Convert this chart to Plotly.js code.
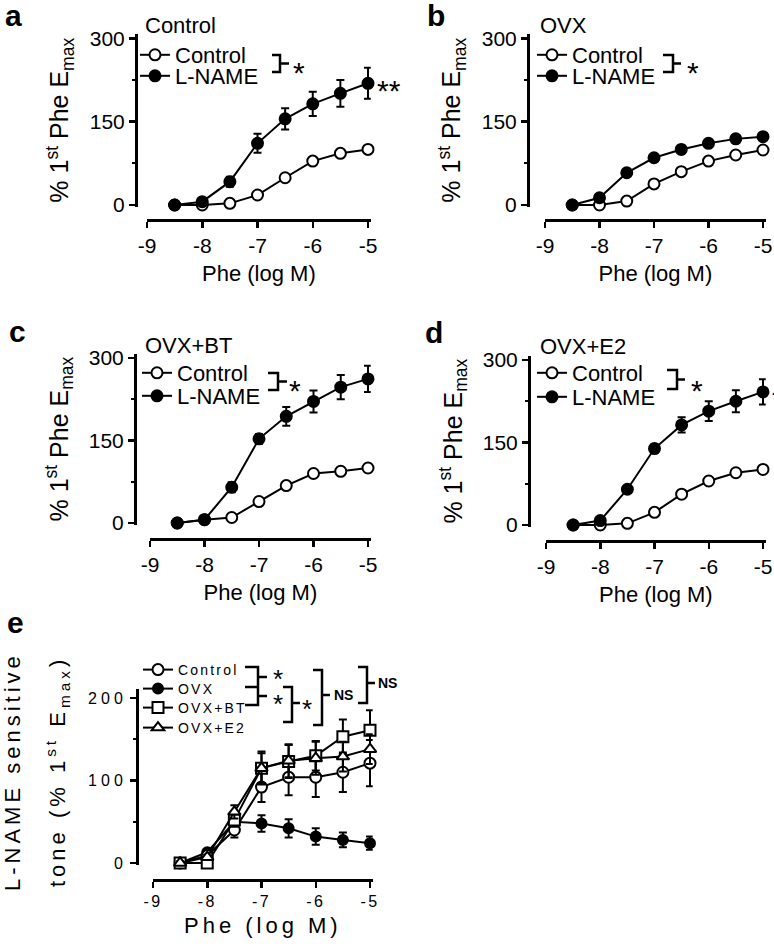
<!DOCTYPE html>
<html><head><meta charset="utf-8">
<script src="https://cdn.plot.ly/plotly-3.0.1.min.js"></script>
<style>html,body{margin:0;padding:0;background:#fff}#chart{width:774px;height:947px}</style>
</head><body><div id="chart"></div>
<script>
// ---------------- data ----------------
const logPhe = [-8.5, -8, -7.5, -7, -6.5, -6, -5.5, -5];
const xTickVals = [-9, -8, -7, -6, -5];
const xTickText = ['-9', '-8', '-7', '-6', '-5'];
const yTickValsAD = [0, 150, 300];
const yTickTextAD = ['0', '150', '300'];
const yTickValsE = [0, 100, 200];
const yTickTextE = ['0', '100', '200'];

const panelLetters = ['a', 'b', 'c', 'd', 'e'];
const panelTitles = ['Control', 'OVX', 'OVX+BT', 'OVX+E2'];
const pairNames = ['Control', 'L-NAME'];
const eNames = ['Control', 'OVX', 'OVX+BT', 'OVX+E2'];

// a: Control group
const ctrlA = [0, 0, 3, 18, 49, 79, 93, 100];
const ctrlAErr = [0, 1, 1, 3, 3, 3, 3, 2];
const lnameA = [0, 6, 42, 111, 155, 182, 201, 219];
const lnameAErr = [0, 2, 9, 17, 19, 22, 24, 28];
// b: OVX
const ctrlB = [0, 0, 7, 38, 60, 79, 90, 99];
const ctrlBErr = [0, 1, 2, 3, 3, 3, 3, 2];
const lnameB = [0, 13, 58, 85, 100, 111, 119, 123];
const lnameBErr = [0, 3, 4, 5, 7, 5, 6, 7];
// c: OVX+BT
const ctrlC = [0, 6, 10, 39, 68, 90, 94, 100];
const ctrlCErr = [0, 1, 2, 3, 3, 3, 3, 2];
const lnameC = [0, 6, 65, 153, 194, 221, 247, 262];
const lnameCErr = [0, 3, 9, 9, 17, 20, 22, 24];
// d: OVX+E2
const ctrlD = [0, 0, 3, 23, 56, 80, 95, 101];
const ctrlDErr = [0, 1, 1, 3, 3, 3, 3, 2];
const lnameD = [0, 8, 65, 139, 182, 207, 225, 242];
const lnameDErr = [0, 2, 4, 8, 14, 18, 20, 23];
// e: L-NAME sensitive tone
const eCtrl = [0, 9, 40, 92, 104, 104, 110, 121];
const eCtrlErr = [2, 3, 9, 18, 22, 24, 24, 28];
const eOvx = [0, 13, 50, 48, 42, 32, 28, 24];
const eOvxErr = [2, 3, 6, 10, 11, 10, 9, 8];
const eBt = [0, 0, 52, 115, 123, 130, 153, 161];
const eBtErr = [2, 3, 8, 20, 20, 18, 21, 24];
const eE2 = [0, 7, 62, 115, 124, 127, 129, 138];
const eE2Err = [2, 3, 8, 18, 20, 20, 18, 18];

// ---------------- helpers ----------------
const W = 774, H = 947;
const F = 'Liberation Sans, Arial, Helvetica, sans-serif';
const fx = p => p / W, fy = p => 1 - p / H;

const axCommon = {
  showline: true, linewidth: 3, linecolor: '#000', ticks: 'outside', tickwidth: 2.5,
  tickcolor: '#000', ticklen: 6, showgrid: false, zeroline: false, fixedrange: true,
  anchor: 'free', automargin: false
};
function yAx(px0, pxTop, topVal, lo, hi, posX, tv, tt, minorD, title, fs, standoff) {
  const k = (px0 - pxTop) / topVal;
  return Object.assign({}, axCommon, {
    range: [lo, hi], domain: [fy(px0 - lo * k), fy(px0 - hi * k)], position: fx(posX),
    tickmode: 'array', tickvals: tv, ticktext: tt,
    minor: {dtick: minorD, ticks: 'outside', ticklen: 3, tickwidth: 2, tickcolor: '#000'},
    tickfont: {family: F, size: fs, color: '#000'},
    title: {text: title, font: {family: F, size: 25, color: '#000'}, standoff: standoff}
  });
}
function xAx(px9, px5, lo, hi, lineY, title, fs, standoff) {
  const k = (px5 - px9) / 4;
  return Object.assign({}, axCommon, {
    range: [lo, hi], domain: [fx(px9 + (lo + 9) * k), fx(px9 + (hi + 9) * k)], position: fy(lineY),
    tickmode: 'array', tickvals: xTickVals, ticktext: xTickText,
    tickfont: {family: F, size: fs, color: '#000'},
    title: {text: title, font: {family: F, size: 22, color: '#000'}, standoff: standoff}
  });
}
function tr(y, err, name, sym, fill, ax, lg, size) {
  return {
    type: 'scatter', mode: 'lines+markers', x: logPhe, y: y, name: name,
    xaxis: 'x' + ax, yaxis: 'y' + ax, legend: lg, cliponaxis: false,
    line: {color: '#000', width: 2},
    marker: {symbol: sym, size: size, color: fill, line: {color: '#000', width: 2}},
    error_y: {type: 'data', array: err, visible: true, color: '#000', thickness: 2, width: 4}
  };
}
function legendAt(mx, my, fs) {
  return {x: fx(mx - 20), y: fy(my), xanchor: 'left', yanchor: 'middle', bgcolor: 'rgba(0,0,0,0)',
    borderwidth: 0, font: {family: F, size: fs, color: '#000'}};
}
function ann(text, x, y, size, opts) {
  return Object.assign({text: text, x: fx(x), y: fy(y), xref: 'paper', yref: 'paper', showarrow: false,
    xanchor: 'center', yanchor: 'middle', borderpad: 0, borderwidth: 0,
    font: {family: F, size: size, color: '#000'}}, opts || {});
}
function poly(lines) {
  return lines.map(pts => pts.map((p, i) => (i ? 'L' : 'M') + fx(p[0]).toFixed(5) + ',' + fy(p[1]).toFixed(5)).join(' ')).join(' ');
}
function shapePath(lines) {
  return {type: 'path', xref: 'paper', yref: 'paper', path: poly(lines), line: {color: '#000', width: 2.5}};
}
const bold30 = {font: {family: F, size: 30, color: '#000', weight: 'bold'}};

// ---------------- traces ----------------
const OPEN = '#fff', FILL = '#000';
const data = [
  tr(ctrlA, ctrlAErr, pairNames[0], 'circle', OPEN, '', 'legend', 11),
  tr(lnameA, lnameAErr, pairNames[1], 'circle', FILL, '', 'legend2', 11),
  tr(ctrlB, ctrlBErr, pairNames[0], 'circle', OPEN, '2', 'legend3', 11),
  tr(lnameB, lnameBErr, pairNames[1], 'circle', FILL, '2', 'legend4', 11),
  tr(ctrlC, ctrlCErr, pairNames[0], 'circle', OPEN, '3', 'legend5', 11),
  tr(lnameC, lnameCErr, pairNames[1], 'circle', FILL, '3', 'legend6', 11),
  tr(ctrlD, ctrlDErr, pairNames[0], 'circle', OPEN, '4', 'legend7', 11),
  tr(lnameD, lnameDErr, pairNames[1], 'circle', FILL, '4', 'legend8', 11),
  tr(eOvx, eOvxErr, eNames[1], 'circle', FILL, '5', 'legend10', 10),
  tr(eCtrl, eCtrlErr, eNames[0], 'circle', OPEN, '5', 'legend9', 11),
  tr(eBt, eBtErr, eNames[2], 'square', OPEN, '5', 'legend11', 11),
  tr(eE2, eE2Err, eNames[3], 'triangle-up', OPEN, '5', 'legend12', 11)
];

const YT = '% 1<sup>st</sup> Phe E<sub>max</sub>';
const XT = 'Phe (log M)';

const layout = {
  width: W, height: H, margin: {l: 0, r: 0, t: 0, b: 0},
  paper_bgcolor: '#fff', plot_bgcolor: 'rgba(0,0,0,0)', showlegend: true,
  font: {family: F, color: '#000'},
  yaxis:  yAx(205, 38.3, 300, -3, 308, 136, yTickValsAD, yTickTextAD, 75, YT, 21, 12),
  xaxis:  xAx(147, 368, -9, -4.95, 220, XT, 21, 9),
  yaxis2: yAx(205, 38.3, 300, -3, 308, 528, yTickValsAD, yTickTextAD, 75, YT, 21, 12),
  xaxis2: xAx(545, 763, -9, -4.95, 220, XT, 21, 9),
  yaxis3: yAx(523, 358, 300, -3, 308, 135, yTickValsAD, yTickTextAD, 75, YT, 21, 12),
  xaxis3: xAx(150, 368, -9, -4.95, 539, XT, 21, 9),
  yaxis4: yAx(525, 360, 300, -3, 308, 529, yTickValsAD, yTickTextAD, 75, YT, 21, 12),
  xaxis4: xAx(546, 763, -9, -4.95, 541, XT, 21, 9),
  yaxis5: yAx(863, 698, 200, -2, 211, 137, yTickValsE, yTickTextE, 50, '', 16, 12),
  xaxis5: xAx(153, 370, -9, -4.95, 880, XT, 16, 8),
  legend:   legendAt(155, 55, 22),
  legend2:  legendAt(155, 76, 22),
  legend3:  legendAt(552, 55, 22),
  legend4:  legendAt(552, 76, 22),
  legend5:  legendAt(157, 373, 22),
  legend6:  legendAt(157, 396, 22),
  legend7:  legendAt(552, 373, 22),
  legend8:  legendAt(552, 397, 22),
  legend9:  legendAt(158, 670, 14),
  legend10: legendAt(158, 689, 14),
  legend11: legendAt(158, 708, 14),
  legend12: legendAt(158, 728, 14),
  annotations: [
    ann(panelLetters[0], 14, 15, 30, bold30),
    ann(panelLetters[1], 436, 15, 30, bold30),
    ann(panelLetters[2], 17, 331, 30, bold30),
    ann(panelLetters[3], 434, 332, 30, bold30),
    ann(panelLetters[4], 15, 622, 30, bold30),
    ann(panelTitles[0], 145, 25, 22, {xanchor: 'left'}),
    ann(panelTitles[1], 540, 25, 22, {xanchor: 'left'}),
    ann(panelTitles[2], 145, 345, 22, {xanchor: 'left'}),
    ann(panelTitles[3], 540, 346, 22, {xanchor: 'left'}),
    ann('*', 299, 73, 30),
    ann('**', 377, 90, 30, {xanchor: 'left'}),
    ann('*', 693, 73, 30),
    ann('*', 295, 391, 30),
    ann('*', 697, 390, 30),
    ann('**', 772, 399, 30, {xanchor: 'left'}),
    ann('*', 278, 679, 26),
    ann('*', 278, 704, 26),
    ann('*', 307, 709, 26),
    ann('NS', 343, 695, 14, {font: {family: F, size: 14, color: '#000', weight: 'bold'}}),
    ann('NS', 387, 683, 14, {font: {family: F, size: 14, color: '#000', weight: 'bold'}}),
    ann('L-NAME sensitive', 12, 772, 22, {textangle: -90}),
    ann('tone (% 1<sup>st</sup> E<sub>max</sub>)', 57, 772, 22, {textangle: -90})
  ],
  shapes: [
    shapePath([[[272, 55], [280, 55], [280, 72], [272, 72]], [[280, 63.5], [289, 63.5]]]),
    shapePath([[[663, 55], [673, 55], [673, 72], [663, 72]], [[673, 63.5], [681, 63.5]]]),
    shapePath([[[268, 373], [278, 373], [278, 390], [268, 390]], [[278, 381.5], [287, 381.5]]]),
    shapePath([[[667, 370], [677, 370], [677, 389], [667, 389]], [[677, 379.5], [685, 379.5]]]),
    shapePath([[[245, 667], [258, 667], [258, 705], [245, 705]], [[245, 687], [258, 687]],
               [[258, 677], [267, 677]], [[258, 696], [267, 696]]]),
    shapePath([[[283, 687], [292, 687], [292, 722], [283, 722]], [[292, 703], [300, 703]]]),
    shapePath([[[313, 670], [322, 670], [322, 725], [313, 725]], [[322, 695], [330, 695]]]),
    shapePath([[[358, 667], [367, 667], [367, 703], [358, 703]], [[367, 683], [375, 683]]])
  ]
};

const gd = document.getElementById('chart');
function spaceOut() {
  const setSp = (n, px) => { n.style.letterSpacing = px + 'px'; };
  const sp = (sel, px) => gd.querySelectorAll(sel).forEach(n => setSp(n, px));
  sp('.subplot.x5y5 .xaxislayer-above text', 2.5);
  sp('.subplot.x5y5 .yaxislayer-above text', 4);
  sp('.g-x5title text', 4);
  // legend entries of panel e (small font): widen spacing and lift the legend clip
  gd.querySelectorAll('text').forEach(n => {
    const t = (n.textContent || '').trim();
    if (eNames.indexOf(t) < 0) return;
    const fsz = parseFloat(n.style.fontSize || getComputedStyle(n).fontSize || '0');
    if (!(fsz > 0 && fsz < 17)) return;
    setSp(n, 2.2);
    let p = n.parentNode;
    while (p && p !== gd) {
      if (p.removeAttribute) p.removeAttribute('clip-path');
      p = p.parentNode;
    }
  });
  const n = layout.annotations.length;
  sp('g.annotation[data-index="' + (n - 1) + '"] text', 4);
  sp('g.annotation[data-index="' + (n - 2) + '"] text', 4);
}
Plotly.newPlot(gd, data, layout, {staticPlot: true, responsive: false}).then(() => {
  spaceOut();
  setTimeout(spaceOut, 50);
  setTimeout(spaceOut, 300);
});
</script>
</body></html>
